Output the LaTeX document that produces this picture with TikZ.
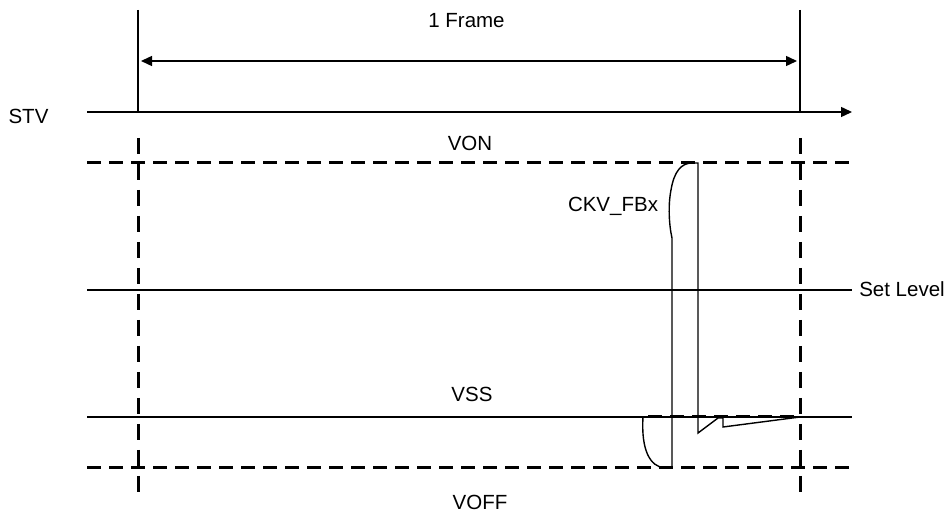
\documentclass[tikz,border=0pt]{standalone}
\usepackage{fontspec}
\setmainfont{Liberation Sans}
\usetikzlibrary{arrows.meta}
\begin{document}
\begin{tikzpicture}[x=1pt,y=-1pt,
  solidln/.style={line width=1.4pt},
  dashln/.style={line width=3pt,dash pattern=on 14pt off 8pt},
  vdashln/.style={line width=3pt,dash pattern=on 16pt off 10pt},
  arr/.style={-{Triangle[length=11pt,width=10pt]}},
  lbl/.style={anchor=base,inner sep=0pt,font=\fontsize{20.5}{24}\selectfont}]
\useasboundingbox (0,0) rectangle (951,518);
% coordinates
\coordinate (stvL) at (87,112);
\coordinate (stvR) at (852,112);
\coordinate (lTop) at (138,10);
\coordinate (lBot) at (138,112);
\coordinate (rTop) at (800,10);
\coordinate (rBot) at (800,112);
\coordinate (frL) at (138,61);
\coordinate (frR) at (800,61);
\coordinate (vonL) at (87,163);
\coordinate (vonR) at (852,163);
\coordinate (setL) at (87,290);
\coordinate (setR) at (852,290);
\coordinate (vssL) at (87,417);
\coordinate (vssR) at (852,417);
\coordinate (voffL) at (87,468);
\coordinate (voffR) at (852,468);
\coordinate (dlT) at (138,138);
\coordinate (dlB) at (138,493);
\coordinate (drT) at (800,138);
\coordinate (drB) at (800,493);
\coordinate (vssD1) at (648,417);
\coordinate (vssD2) at (800,417);
% labels
\node[lbl] (frame) at (466.5,28) {1 Frame};
\node[lbl] (stv) at (28.5,124) {STV};
\node[lbl] (von) at (470,151) {VON};
\node[lbl] (setlv) at (902,297) {Set Level};
\node[lbl] (vss) at (472,402) {VSS};
\node[lbl] (voff) at (480,510) {VOFF};
\node[lbl] (ckv) at (613,212) {CKV\_FBx};
% axis and frame
\draw[solidln,arr] (stvL) -- (stvR);
\draw[solidln] (lTop) -- (lBot);
\draw[solidln] (rTop) -- (rBot);
\draw[solidln,{Triangle[length=11pt,width=10pt]}-{Triangle[length=11pt,width=10pt]},shorten <=3pt,shorten >=3pt] (frL) -- (frR);
% level lines
\draw[dashln] (vonL) -- (vonR);
\draw[solidln] (setL) -- (setR);
\draw[solidln] (vssL) -- (vssR);
\draw[dashln] (voffL) -- (voffR);
\draw[dashln] (vssD1) -- (vssD2);
\draw[vdashln] (dlT) -- (dlB);
\draw[vdashln] (drT) -- (drB);
% waveform
\draw[solidln,line join=miter]
  (643,417) .. controls (641,450) and (650,467) .. (665,468)
  -- (672,468) -- (672,238)
  .. controls (669,225) and (668,205) .. (671,190)
  .. controls (674,172) and (681,163) .. (692,163)
  -- (698,163) -- (698,433) -- (718,418) -- (723,418) -- (723,427) -- (800,417);
\end{tikzpicture}
\end{document}
